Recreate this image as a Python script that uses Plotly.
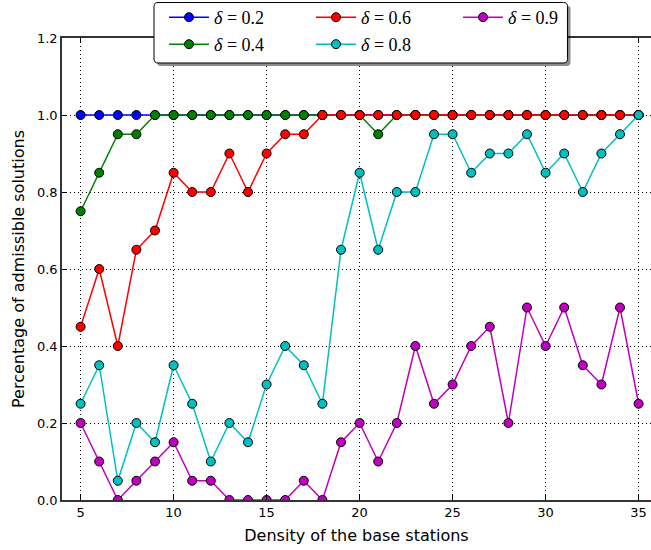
import plotly.graph_objects as go

x_density = list(range(5, 36))

admissible_d02 = [1.0] * 31
admissible_d04 = [0.75, 0.85, 0.95, 0.95, 1.0, 1.0, 1.0, 1.0, 1.0, 1.0, 1.0, 1.0, 1.0, 1.0, 1.0, 1.0,
                  0.95, 1.0, 1.0, 1.0, 1.0, 1.0, 1.0, 1.0, 1.0, 1.0, 1.0, 1.0, 1.0, 1.0, 1.0]
admissible_d06 = [0.45, 0.6, 0.4, 0.65, 0.7, 0.85, 0.8, 0.8, 0.9, 0.8, 0.9, 0.95, 0.95, 1.0, 1.0, 1.0,
                  1.0, 1.0, 1.0, 1.0, 1.0, 1.0, 1.0, 1.0, 1.0, 1.0, 1.0, 1.0, 1.0, 1.0, 1.0]
admissible_d08 = [0.25, 0.35, 0.05, 0.2, 0.15, 0.35, 0.25, 0.1, 0.2, 0.15, 0.3, 0.4, 0.35, 0.25, 0.65, 0.85,
                  0.65, 0.8, 0.8, 0.95, 0.95, 0.85, 0.9, 0.9, 0.95, 0.85, 0.9, 0.8, 0.9, 0.95, 1.0]
admissible_d09 = [0.2, 0.1, 0.0, 0.05, 0.1, 0.15, 0.05, 0.05, 0.0, 0.0, 0.0, 0.0, 0.05, 0.0, 0.15, 0.2,
                  0.1, 0.2, 0.4, 0.25, 0.3, 0.4, 0.45, 0.2, 0.5, 0.4, 0.5, 0.35, 0.3, 0.5, 0.25]

series_names = ["0.2", "0.4", "0.6", "0.8", "0.9"]
series_values = [admissible_d02, admissible_d04, admissible_d06, admissible_d08, admissible_d09]
series_colors = ["#0000ff", "#008000", "#ff0000", "#00bfbf", "#bf00bf"]
series_legend = ["legend", "legend2", "legend", "legend2", "legend"]
series_rank = [1, 4, 2, 5, 3]

x_ticks = [5, 10, 15, 20, 25, 30, 35]
y_ticks = [0.0, 0.2, 0.4, 0.6, 0.8, 1.0, 1.2]

W, H = 651, 550
S_LEFT, S_TOP, S_BOTTOM = 62, 38, 500          # plot-area edges in pixels
ML = S_LEFT
MT = S_TOP
MB = H - S_BOTTOM
PW = W - ML
PH = H - MT - MB


def px_x(p):
    return (p - S_LEFT) / PW


def px_y(p):
    return (S_BOTTOM - p) / PH


fig = go.Figure()
for name, vals, col, lg, rk in zip(series_names, series_values, series_colors, series_legend, series_rank):
    fig.add_trace(go.Scatter(
        x=x_density, y=vals, mode="lines+markers",
        name="<i>δ</i> = 0." + name.split(".")[1],
        line=dict(color=col, width=1.5),
        marker=dict(size=9, color=col, line=dict(color="black", width=1)),
        legend=lg, legendrank=rk,
    ))


def rounded_path(x0, y0, x1, y1, r=4):
    def P(a, b):
        return f"{px_x(a):.5f},{px_y(b):.5f}"
    return (f"M {P(x0 + r, y0)} L {P(x1 - r, y0)} Q {P(x1, y0)} {P(x1, y0 + r)} "
            f"L {P(x1, y1 - r)} Q {P(x1, y1)} {P(x1 - r, y1)} L {P(x0 + r, y1)} "
            f"Q {P(x0, y1)} {P(x0, y1 - r)} L {P(x0, y0 + r)} Q {P(x0, y0)} {P(x0 + r, y0)} Z")


bx0, by0, bx1, by1 = 154, 2.5, 567.5, 63
shapes = [
    dict(type="path", xref="paper", yref="paper", path=rounded_path(bx0 + 3, by0 + 3, bx1 + 3, by1 + 3),
         fillcolor="rgba(0,0,0,0.45)", line=dict(width=0), layer="above"),
    dict(type="path", xref="paper", yref="paper", path=rounded_path(bx0, by0, bx1, by1),
         fillcolor="white", line=dict(color="black", width=1), layer="above"),
]

legend_common = dict(orientation="h", bgcolor="rgba(0,0,0,0)", borderwidth=0,
                     font=dict(family="Liberation Serif", size=18, color="black"),
                     entrywidth=92, entrywidthmode="pixels", itemwidth=40,
                     xanchor="left", yanchor="middle", tracegroupgap=0)

fig.update_layout(
    width=W, height=H,
    margin=dict(l=ML, r=0, t=MT, b=MB, autoexpand=False),
    plot_bgcolor="white", paper_bgcolor="white",
    font=dict(family="DejaVu Sans", size=13, color="black"),
    shapes=shapes,
    legend=dict(x=px_x(164), y=px_y(17.5), **legend_common),
    legend2=dict(x=px_x(164), y=px_y(44.5), **legend_common),
    xaxis=dict(range=[4, 4 + PW / 18.6], tickvals=x_ticks, ticks="inside", ticklen=5,
               tickcolor="black", showline=True, linecolor="#333", linewidth=1.5, mirror="ticks",
               showgrid=True, gridcolor="black", griddash="1px,3px", gridwidth=1, zeroline=False,
               automargin=False,
               title=dict(text="Density of the base stations", standoff=10),
               tickfont=dict(size=13)),
    yaxis=dict(range=[0, 1.2], tickvals=y_ticks, tickformat=".1f", ticks="inside", ticklen=5,
               tickcolor="black", showline=True, linecolor="#333", linewidth=1.5, mirror=False,
               showgrid=True, gridcolor="black", griddash="1px,3px", gridwidth=1, zeroline=False,
               automargin=False,
               title=dict(text="Percentage of admissible solutions", standoff=8),
               tickfont=dict(size=13)),
)

fig.write_html(
    "out.html",
    config={"displayModeBar": False},
    post_script="document.body.style.margin='0';document.body.style.overflow='hidden';",
)
